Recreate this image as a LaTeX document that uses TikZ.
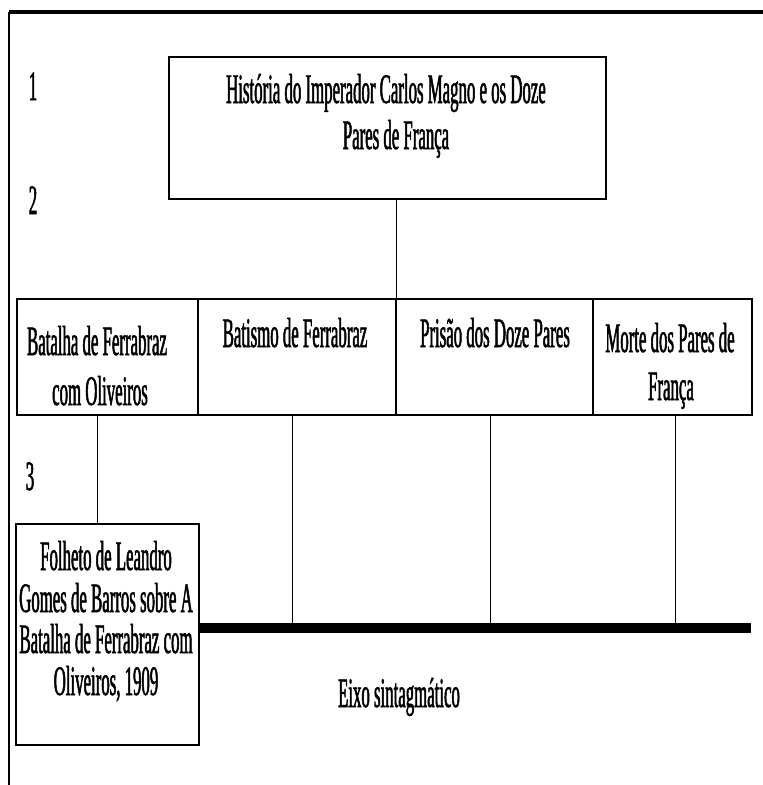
\documentclass[tikz,border=0pt]{standalone}
\usepackage{fontspec}
\setmainfont[FakeStretch=0.40,FakeBold=1.2]{Liberation Serif}
\begin{document}
\begin{tikzpicture}[x=1pt,y=-1pt,
  box/.style={draw, line width=1.5pt, inner sep=0pt, anchor=north west},
  txt/.style={anchor=base, inner sep=0pt, font=\fontsize{42}{42}\selectfont},
  thin/.style={line width=1.2pt},
  bar/.style={line width=10pt},
  topbar/.style={line width=4pt}]
\useasboundingbox (0,0) rectangle (763,785);
% frame lines
\coordinate (tl) at (9,12);
\coordinate (tr) at (763,12);
\coordinate (bl) at (9,785);
\draw[topbar] (tl) -- (tr);
\draw[thin] (tl) -- (bl);
% level labels
\node[txt] (n1) at (33,100) {1};
\node[txt] (n2) at (33,214) {2};
\node[txt] (n3) at (30,490) {3};
% top box
\node[box, minimum width=437pt, minimum height=142pt] (top) at (168,56) {};
\node[txt] (topa) at (386,103) {História do Imperador Carlos Magno e os Doze};
\node[txt] (topb) at (396,149) {Pares de França};
% row boxes
\node[box, minimum width=181pt, minimum height=116pt] (b1) at (16,298) {};
\node[box, minimum width=198pt, minimum height=116pt] (b2) at (197,298) {};
\node[box, minimum width=197pt, minimum height=116pt] (b3) at (395,298) {};
\node[box, minimum width=159pt, minimum height=116pt] (b4) at (592,298) {};
\node[txt] (b1a) at (97,355) {Batalha de Ferrabraz};
\node[txt] (b1b) at (100,405) {com Oliveiros};
\node[txt] (b2a) at (295,347) {Batismo de Ferrabraz};
\node[txt] (b3a) at (495,347) {Prisão dos Doze Pares};
\node[txt] (b4a) at (670,352) {Morte dos Pares de};
\node[txt] (b4b) at (671,400) {França};
% folheto box
\node[box, minimum width=183pt, minimum height=221pt] (fol) at (15,523) {};
\node[txt] (fa) at (106,570) {Folheto de Leandro};
\node[txt] (fb) at (106,612) {Gomes de Barros sobre A};
\node[txt] (fc) at (106,653) {Batalha de Ferrabraz com};
\node[txt] (fd) at (106,695) {Oliveiros, 1909};
% axis
\coordinate (barL) at (198,628);
\coordinate (barR) at (751,628);
\draw[bar] (barL) -- (barR);
\node[txt] (eixo) at (399,707) {Eixo sintagmático};
% connectors
\draw[thin] (top.south -| b2.north east) -- (b2.north east);
\draw[thin] ([xshift=-9.5pt]b1.south) -- ([xshift=-9.5pt]fol.north);
\draw[thin] ([xshift=-4pt]b2.south) -- ([xshift=-4pt,yshift=-5pt]b2.south |- barL);
\draw[thin] ([xshift=-3.5pt]b3.south) -- ([xshift=-3.5pt,yshift=-5pt]b3.south |- barL);
\draw[thin] ([xshift=3.5pt]b4.south) -- ([xshift=3.5pt,yshift=-5pt]b4.south |- barL);
\end{tikzpicture}
\end{document}
